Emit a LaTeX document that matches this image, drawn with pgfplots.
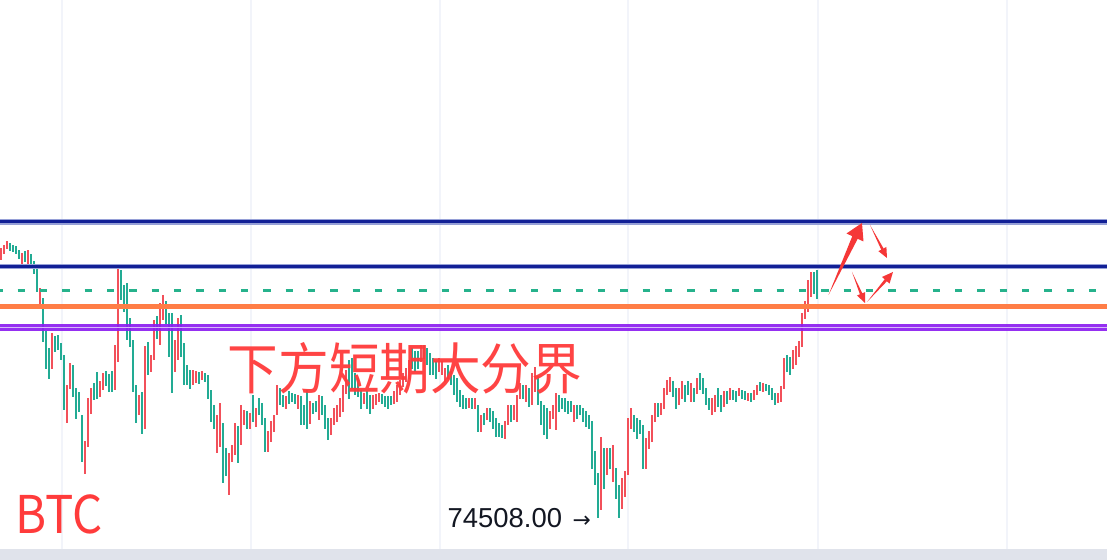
\documentclass[border=0pt]{standalone}
\usepackage{fontspec}
\setmainfont{Liberation Sans}
\newfontfamily\cjk{Noto Sans CJK SC}
\newfontfamily\dejavu{DejaVu Sans}
\usepackage{pgfplots}
\usepackage{pgfplotstable}
\pgfplotsset{compat=1.18}

\definecolor{upc}{RGB}{242,80,90}
\definecolor{dnc}{RGB}{34,171,148}
\definecolor{navy}{RGB}{18,32,150}
\definecolor{navyl}{RGB}{150,160,215}
\definecolor{orangec}{RGB}{255,125,70}
\definecolor{purplec}{RGB}{140,30,240}
\definecolor{purplel}{RGB}{215,185,250}
\definecolor{dashc}{RGB}{38,178,140}
\definecolor{gridc}{RGB}{242,244,250}
\definecolor{bandc}{RGB}{224,227,235}
\definecolor{txtred}{RGB}{255,59,59}
\definecolor{arrowc}{RGB}{245,55,55}
\definecolor{darkc}{RGB}{19,23,34}

% candles, screen units (y grows downwards): x open high low close
\pgfplotstableread{
x o h l c
1 258 248 260 250
4 252 245 254 247
7 247 241 249 243
10 245 243 251 249
13 247 245 252 250
16 248 246 254 252
19 252 250 259 257
22 263 253 265 255
25 253 251 262 260
28 263 250 265 257
31 256 254 266 264
34 263 261 274 272
37 270 268 292 290
40 305 288 307 297
43 302 298 342 340
46 333 331 369 367
49 350 348 379 377
52 365 333 369 335
55 338 336 352 350
58 340 335 350 348
61 345 343 360 358
64 357 355 410 395
67 415 385 423 387
70 387 363 389 365
73 367 365 397 395
76 390 388 419 417
79 395 392 412 410
82 417 415 462 460
85 470 441 474 443
88 445 398 447 400
91 412 388 414 390
94 385 383 400 398
97 375 372 399 397
100 395 381 397 383
103 388 373 390 375
106 373 371 386 384
109 376 374 392 390
112 373 371 392 390
115 388 345 390 347
118 360 268 362 270
121 272 270 300 298
124 288 285 312 310
127 300 283 340 338
130 320 318 347 345
133 345 340 392 390
136 387 385 423 420
139 413 395 415 397
142 395 392 434 432
145 427 346 429 348
148 345 342 375 372
151 370 355 372 357
154 358 320 360 322
157 320 316 339 337
160 337 303 345 305
163 318 295 320 298
166 303 301 324 322
169 315 313 357 355
172 320 313 393 350
175 370 340 372 342
178 350 318 360 320
181 322 315 357 355
184 350 343 385 383
187 367 365 385 383
190 372 370 389 387
193 383 370 385 372
196 381 371 383 373
199 374 372 384 382
202 378 371 380 373
205 375 373 382 380
208 377 375 399 397
211 392 390 422 420
214 410 405 429 427
217 440 415 453 417
220 435 403 447 405
223 425 423 483 480
226 450 448 476 473
229 490 453 495 455
232 460 445 462 447
235 453 423 455 425
238 428 426 463 460
241 443 405 445 407
244 423 410 425 412
247 413 411 429 427
250 427 413 429 415
253 397 395 422 420
256 425 408 427 410
259 400 398 415 413
262 405 403 425 423
265 420 418 452 450
268 450 431 452 433
271 440 421 442 423
274 430 415 432 417
277 413 385 415 387
280 390 388 405 403
283 397 395 407 405
286 407 396 409 398
289 393 391 404 402
292 395 393 402 400
295 396 394 404 402
298 407 395 409 397
301 398 396 425 423
304 407 405 425 423
307 400 390 429 427
310 422 401 424 403
313 405 403 414 412
316 403 401 412 410
319 418 395 420 397
322 398 396 415 413
325 407 405 429 427
328 420 418 440 438
331 433 418 435 420
334 423 408 425 410
337 420 405 422 407
340 415 398 417 400
343 410 385 412 387
346 392 370 394 372
349 370 360 399 397
352 362 358 389 387
355 375 373 395 393
358 380 378 397 395
361 392 390 409 407
364 402 393 404 395
367 393 391 409 407
370 397 395 414 412
373 407 395 409 397
376 403 394 405 396
379 400 393 402 395
382 396 394 404 402
385 398 396 407 405
388 398 396 409 407
391 398 396 405 403
394 402 391 404 393
397 400 385 402 387
400 393 380 395 382
403 385 373 387 375
406 380 368 382 370
409 377 360 379 362
412 350 348 369 367
415 353 351 372 370
418 353 351 369 367
421 360 345 362 347
424 347 345 359 357
427 350 348 365 363
430 355 353 375 373
433 360 358 375 373
436 363 361 379 377
439 370 358 372 360
442 373 361 375 363
445 380 368 382 370
448 367 365 379 377
451 373 371 385 383
454 377 375 395 393
457 380 378 402 400
460 392 390 407 405
463 397 395 409 407
466 400 398 409 407
469 406 398 408 400
472 400 398 409 407
475 407 398 409 400
478 407 405 432 430
481 430 415 432 417
484 415 413 425 423
487 418 408 420 410
490 410 408 422 420
493 413 411 429 427
496 420 418 437 435
499 425 423 437 435
502 427 425 438 436
505 437 421 439 423
508 423 405 425 407
511 407 405 422 420
514 418 405 420 407
517 420 395 422 397
520 397 383 399 385
523 387 385 399 397
526 400 385 402 387
529 390 388 407 405
532 403 373 405 378
535 390 367 392 370
538 380 376 405 403
541 403 401 425 423
544 407 405 435 433
547 410 408 439 437
550 427 411 429 413
553 417 405 419 407
556 415 393 430 400
559 397 395 412 410
562 400 398 409 407
565 400 398 412 410
568 403 401 414 412
571 403 401 412 410
574 420 405 422 407
577 407 405 419 417
580 407 405 415 413
583 410 408 422 420
586 413 411 427 425
589 417 415 429 427
592 423 421 469 467
595 453 451 485 483
598 475 473 518 515
601 505 437 510 440
604 450 448 489 487
607 473 448 475 450
610 450 448 469 467
613 480 445 482 447
616 470 468 499 497
619 487 485 518 513
622 507 478 509 480
625 495 471 497 473
628 473 418 475 420
631 427 408 429 410
634 417 415 432 430
637 420 418 439 437
640 422 420 434 432
643 427 425 469 467
646 467 438 469 440
649 447 431 449 433
652 440 415 442 417
655 420 403 422 405
658 405 403 417 415
661 413 403 415 405
664 407 388 409 390
667 393 380 395 382
670 390 377 392 380
673 383 381 397 395
676 390 388 409 407
679 403 388 405 390
682 397 381 399 383
685 387 385 402 400
688 383 381 395 393
691 400 383 402 385
694 390 388 402 400
697 392 378 394 380
700 378 373 390 388
703 380 378 394 392
706 390 388 405 403
709 400 398 410 408
712 413 398 415 400
715 410 395 412 397
718 393 388 407 405
721 397 395 412 410
724 405 391 407 393
727 393 391 404 402
730 398 388 400 390
733 392 390 400 398
736 393 391 402 400
739 394 388 396 390
742 392 390 399 397
745 393 391 400 398
748 399 393 401 395
751 395 393 402 400
754 398 390 400 392
757 393 385 395 387
760 384 382 391 389
763 390 383 392 385
766 386 384 391 389
769 387 385 395 393
772 390 388 400 398
775 395 393 405 403
778 401 393 403 395
781 400 386 402 388
784 387 358 389 360
787 357 355 372 370
790 360 357 375 373
793 367 350 369 352
796 363 346 365 348
799 355 341 357 343
802 345 313 347 315
805 317 301 319 303
808 310 280 312 282
811 295 272 297 274
814 274 272 294 292
817 272 270 299 297
}\candles

\begin{document}
\begin{tikzpicture}
\begin{axis}[
  scale only axis, width=11.07cm, height=5.6cm,
  xmin=0, xmax=1107, ymin=0, ymax=560, y dir=reverse,
  axis line style={draw=none}, ticks=none,
  axis background/.style={fill=white},
  candle/.style 2 args={draw=none, mark=none, mark size=0pt, forget plot,
    error bars/y dir=both, error bars/y explicit, error bars/error mark=none,
    error bars/error bar style={draw=#1, line width=#2}},
]
% vertical grid
\foreach \gx in {62,251,440,628,818,1007}{
  \edef\tmp{\noexpand\draw[gridc, line width=0.3pt] (axis cs:\gx,0) -- (axis cs:\gx,549);}\tmp
}

% rising candles (red)
\addplot[restrict expr to domain={\thisrow{o}-\thisrow{c}}{0.5:1000}, candle={upc}{0.34pt}]
  table[x=x, y expr={(\thisrow{h}+\thisrow{l})/2}, y error expr={(\thisrow{l}-\thisrow{h})/2}] {\candles};
\addplot[restrict expr to domain={\thisrow{o}-\thisrow{c}}{0.5:1000}, candle={upc}{0.84pt}]
  table[x=x, y expr={(\thisrow{o}+\thisrow{c})/2}, y error expr={abs(\thisrow{o}-\thisrow{c})/2}] {\candles};
% falling candles (green)
\addplot[restrict expr to domain={\thisrow{o}-\thisrow{c}}{-1000:-0.5}, candle={dnc}{0.34pt}]
  table[x=x, y expr={(\thisrow{h}+\thisrow{l})/2}, y error expr={(\thisrow{l}-\thisrow{h})/2}] {\candles};
\addplot[restrict expr to domain={\thisrow{o}-\thisrow{c}}{-1000:-0.5}, candle={dnc}{0.84pt}]
  table[x=x, y expr={(\thisrow{o}+\thisrow{c})/2}, y error expr={abs(\thisrow{o}-\thisrow{c})/2}] {\candles};

% levels
\addplot[navyl, line width=1.6pt, forget plot] coordinates {(0,221.8) (1107,221.8)};
\addplot[navy, line width=0.95pt, forget plot] coordinates {(0,221.8) (1107,221.8)};
\addplot[navyl, line width=1.6pt, forget plot] coordinates {(0,266.5) (1107,266.5)};
\addplot[navy, line width=0.95pt, forget plot] coordinates {(0,266.5) (1107,266.5)};
\addplot[dashc, line width=0.85pt, dash pattern=on 2.1pt off 4.25pt, dash phase=1.3pt, forget plot]
  coordinates {(0,291) (1107,291)};
\addplot[orangec, line width=1.42pt, forget plot] coordinates {(0,307) (1107,307)};
\addplot[purplec, line width=1.9pt, opacity=0.92, forget plot] coordinates {(0,327.3) (1107,327.3)};
\addplot[purplel, line width=0.45pt, forget plot] coordinates {(0,327.4) (1107,327.4)};

% hand-drawn arrows
\fill[arrowc] (axis cs:828.5,295) -- (axis cs:852.3,236.2) -- (axis cs:846.5,233.5)
  -- (axis cs:862,223) -- (axis cs:863.5,241.5) -- (axis cs:857.7,238.8) -- cycle;
\fill[arrowc] (axis cs:870,225) -- (axis cs:881.2,249.7) -- (axis cs:878.4,251.2)
  -- (axis cs:887,258) -- (axis cs:886.4,247.0) -- (axis cs:883.6,248.5) -- cycle;
\fill[arrowc] (axis cs:852,272) -- (axis cs:859.9,294.3) -- (axis cs:857.0,295.5)
  -- (axis cs:865,303) -- (axis cs:865.2,292.1) -- (axis cs:862.3,293.3) -- cycle;
\fill[arrowc] (axis cs:867,302) -- (axis cs:884.7,279.3) -- (axis cs:882.0,277.0)
  -- (axis cs:893,272) -- (axis cs:889.6,283.6) -- (axis cs:886.9,281.3) -- cycle;

% texts
\node[font=\cjk\fontsize{14.4pt}{16pt}\selectfont, text=txtred, inner sep=0pt,
  yscale=1.1, opacity=0.95] at (axis cs:405,368.5) {下方短期大分界};
\node[font=\cjk\fontsize{14.8pt}{16pt}\selectfont, text=txtred, inner sep=0pt, xscale=0.91]
  at (axis cs:59,514) {BTC};
\node[font=\fontsize{7.8pt}{9pt}\selectfont, text=darkc, anchor=base west, inner sep=0pt]
  at (axis cs:447,527.3) {74508.00\hspace{3pt}{\dejavu\fontsize{6.2pt}{7pt}\selectfont →}};

% bottom strip
\fill[bandc] (axis cs:0,549) rectangle (axis cs:1107,560);
\end{axis}
\end{tikzpicture}
\end{document}
